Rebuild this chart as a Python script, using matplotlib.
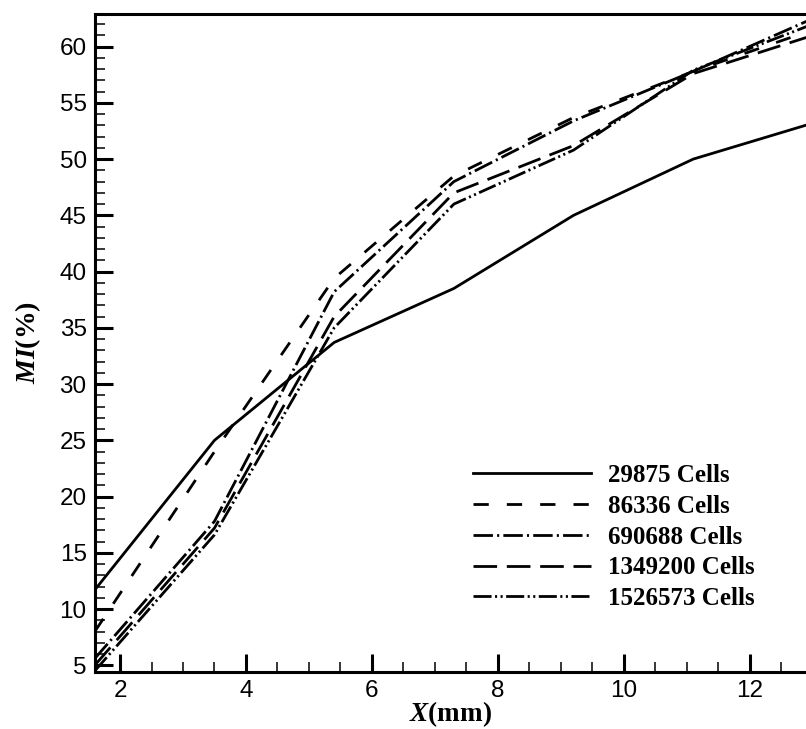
import numpy as np
import matplotlib
matplotlib.use('Agg')
import matplotlib.pyplot as plt
from matplotlib.ticker import MultipleLocator

plt.rcParams['lines.scale_dashes'] = False
plt.rcParams['mathtext.fontset'] = 'custom'
plt.rcParams['mathtext.bfit'] = 'Liberation Serif:italic:bold'
plt.rcParams['mathtext.rm'] = 'Liberation Serif:bold'

# sampling positions along the channel (mm)
x_mm = [1.6, 3.5, 5.4, 7.3, 9.2, 11.1, 13.0]

# mixing index (%) for each mesh
mi_29875 = [11.7, 25.0, 33.7, 38.5, 45.0, 50.0, 53.2]
mi_86336 = [8.0, 24.0, 39.4, 48.5, 53.7, 57.8, 61.5]
mi_690688 = [5.6, 17.8, 38.2, 48.0, 53.4, 57.8, 62.5]
mi_1349200 = [5.0, 17.2, 36.0, 47.0, 51.2, 57.6, 61.0]
mi_1526573 = [4.5, 16.6, 35.0, 46.0, 50.8, 57.9, 62.0]

labels = ['29875 Cells', '86336 Cells', '690688 Cells', '1349200 Cells', '1526573 Cells']
series = [mi_29875, mi_86336, mi_690688, mi_1349200, mi_1526573]
styles = ['-', (0, (11, 13)), (0, (14, 3, 1.5, 3)), (0, (17, 7)),
          (0, (13, 2.5, 1.5, 2.5, 1.5, 2.5))]

fig = plt.figure(figsize=(8.06, 7.29), dpi=100)
ax = fig.add_axes([95/806, 1 - 672/729, 711/806, 658/729])

for ys, ls, lab in zip(series, styles, labels):
    ax.plot(x_mm, ys, color='black', lw=2.0, linestyle=ls, label=lab)

ax.set_xlim(1.603, 12.89)
ax.set_ylim(4.4, 62.9)
ax.xaxis.set_major_locator(MultipleLocator(2))
ax.xaxis.set_minor_locator(MultipleLocator(0.5))
ax.yaxis.set_major_locator(MultipleLocator(5))
ax.yaxis.set_minor_locator(MultipleLocator(1))

ax.tick_params(which='both', direction='in', top=False, right=False, color='black')
ax.tick_params(which='major', length=13, width=2.2, labelsize=17.5, pad=6)
ax.tick_params(which='minor', length=7.5, width=1.1)
for lab in ax.get_xticklabels() + ax.get_yticklabels():
    lab.set_family('Liberation Sans')

for side in ['left', 'bottom', 'top']:
    ax.spines[side].set_linewidth(2.2)
ax.spines['right'].set_visible(False)

ax.set_xlabel(r'$\mathbfit{X}$(mm)', fontsize=19.5, family='Liberation Serif', fontweight='bold')
ax.set_ylabel(r'$\mathbfit{MI}$(%)', fontsize=20, family='Liberation Serif', fontweight='bold')
ax.xaxis.set_label_coords(0.5, -0.041)
ax.yaxis.set_label_coords(-0.073, 0.5)

leg = ax.legend(loc='center', bbox_to_anchor=(0.73, 0.205), frameon=False,
                prop={'family': 'Liberation Serif', 'weight': 'bold', 'size': 18},
                handlelength=4.7, handletextpad=0.68, labelspacing=0.31, borderpad=0)

fig.savefig('out.png', dpi=100)
